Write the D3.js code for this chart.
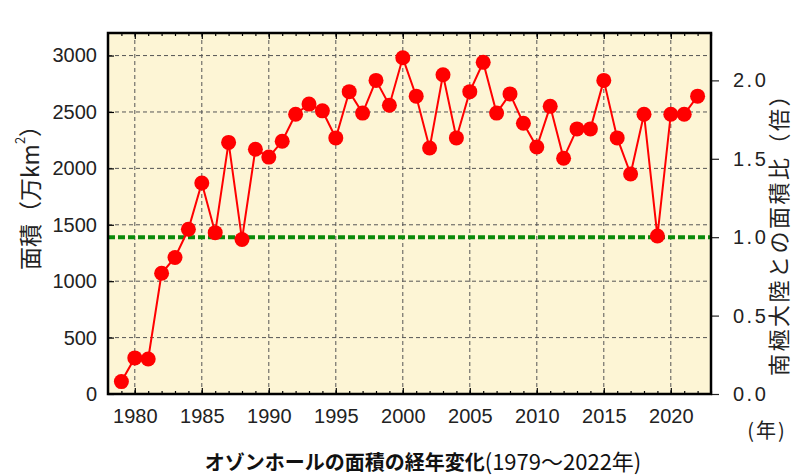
<!DOCTYPE html>
<html>
<head>
<meta charset="utf-8">
<script src="https://cdn.jsdelivr.net/npm/d3@7"></script>
<style>
body { margin: 0; background: #fff; }
</style>
</head>
<body>
<svg id="chart" width="794" height="475"></svg>
<script>
// オゾンホールの面積 (万km2), 1979-2022
var years = [1979,1980,1981,1982,1983,1984,1985,1986,1987,1988,1989,1990,1991,1992,1993,1994,1995,1996,1997,1998,1999,2000,
             2001,2002,2003,2004,2005,2006,2007,2008,2009,2010,2011,2012,2013,2014,2015,2016,2017,2018,2019,2020,2021,2022];
var areas = [110,320,310,1070,1210,1460,1870,1430,2230,1370,2170,2100,2240,2480,2570,2510,2270,2680,2490,2780,2560,2980,
             2640,2180,2830,2270,2680,2940,2490,2660,2400,2190,2550,2090,2350,2350,2780,2270,1950,2480,1400,2480,2480,2640];
var antarctica = 1390; // 南極大陸の面積
var xTicks = [1980,1985,1990,1995,2000,2005,2010,2015,2020];
var yTicks = [0,500,1000,1500,2000,2500,3000];
var ratioTicks = [0,0.5,1.0,1.5,2.0];

var svg = d3.select("#chart");
var L = 108, R = 711, T = 33, B = 394;

var x = d3.scaleLinear().domain([1978, 2023]).range([L, R]);
var y = d3.scaleLinear().domain([0, 3200]).range([B, T]);
var y2 = d3.scaleLinear().domain([0, 3200 / antarctica]).range([B, T]);

var numFont = "'Liberation Sans', Arial, sans-serif";
var jpFont = "'Noto Sans CJK JP', sans-serif";

// plot background
svg.append("rect").attr("x", L).attr("y", T).attr("width", R - L).attr("height", B - T)
   .style("fill", "#fdf5d5");

// grid
svg.append("g").selectAll("line").data(xTicks).enter().append("line")
   .attr("x1", function(d){ return x(d); }).attr("x2", function(d){ return x(d); })
   .attr("y1", T).attr("y2", B)
   .style("stroke", "#555").style("stroke-width", 1).style("stroke-dasharray", "4,3");
svg.append("g").selectAll("line").data(yTicks.slice(1)).enter().append("line")
   .attr("x1", L).attr("x2", R)
   .attr("y1", function(d){ return y(d); }).attr("y2", function(d){ return y(d); })
   .style("stroke", "#555").style("stroke-width", 1).style("stroke-dasharray", "4,3");

// antarctica reference line
svg.append("line").attr("x1", L).attr("x2", R).attr("y1", y(antarctica)).attr("y2", y(antarctica))
   .style("stroke", "#0a8a0a").style("stroke-width", 4).style("stroke-dasharray", "7,3");

// minor/major ticks, bottom and top, pointing inward
svg.append("g").attr("transform", "translate(0," + B + ")")
   .call(d3.axisBottom(x).tickValues(years.concat([2023])).tickSize(-3).tickFormat(""));
svg.append("g").attr("transform", "translate(0," + T + ")")
   .call(d3.axisTop(x).tickValues(years.concat([2023])).tickSize(-3).tickFormat(""));
svg.append("g").attr("transform", "translate(0," + T + ")")
   .call(d3.axisTop(x).tickValues(xTicks).tickSize(-6).tickFormat(""));
var xAxis = svg.append("g").attr("class", "xaxis").attr("transform", "translate(0," + B + ")")
   .call(d3.axisBottom(x).tickValues(xTicks).tickSize(-6).tickPadding(15).tickFormat(d3.format("d")));

var yAxis = svg.append("g").attr("class", "yaxis").attr("transform", "translate(" + L + ",0)")
   .call(d3.axisLeft(y).tickValues(yTicks).tickSize(-6).tickPadding(11).tickFormat(d3.format("d")));

var rAxis = svg.append("g").attr("class", "raxis").attr("transform", "translate(" + R + ",0)")
   .call(d3.axisRight(y2).tickValues(ratioTicks).tickSize(8).tickPadding(14).tickFormat(d3.format(".1f")));

svg.selectAll(".domain").remove();
svg.selectAll(".tick line").style("stroke", "#000").style("stroke-width", 1.2);
svg.selectAll(".xaxis text, .yaxis text, .raxis text")
   .style("font-family", numFont).style("font-size", "20px").style("fill", "#222");
rAxis.selectAll("text").style("letter-spacing", "2.5px");
rAxis.selectAll(".tick line").style("stroke", "#222");

// frame
svg.append("rect").attr("x", L).attr("y", T).attr("width", R - L).attr("height", B - T)
   .style("fill", "none").style("stroke", "#000").style("stroke-width", 2.5);

// series
var line = d3.line().x(function(d, i){ return x(years[i]); }).y(function(d){ return y(d); });
svg.append("path").datum(areas).attr("d", line)
   .style("fill", "none").style("stroke", "#ff0000").style("stroke-width", 2);
svg.append("g").selectAll("circle").data(areas).enter().append("circle")
   .attr("cx", function(d, i){ return x(years[i]); })
   .attr("cy", function(d){ return y(d); })
   .attr("r", 7.5)
   .style("fill", "#ff0000");

// axis titles
var lt = svg.append("text").attr("transform", "translate(29,192) rotate(-90)")
   .attr("text-anchor", "middle").attr("dominant-baseline", "central")
   .style("font-family", jpFont).style("font-size", "23px").style("fill", "#222");
lt.append("tspan").text("面積（万km");
lt.append("tspan").attr("baseline-shift", "super").style("font-size", "13px").text("2");
lt.append("tspan").text("）");

svg.append("text").attr("transform", "translate(777,229) rotate(-90)")
   .attr("text-anchor", "middle").attr("dominant-baseline", "central")
   .style("font-family", jpFont).style("font-size", "22px").style("letter-spacing", "2.5px").style("fill", "#222")
   .text("南極大陸との面積比（倍）");

svg.append("text").attr("x", 767).attr("y", 429)
   .attr("text-anchor", "middle").attr("dominant-baseline", "central")
   .style("font-family", jpFont).style("font-size", "20px").style("letter-spacing", "2px").style("fill", "#222")
   .text("(年)");

// caption
var cap = svg.append("text").attr("x", 423).attr("y", 470).attr("text-anchor", "middle")
   .style("font-family", jpFont).style("fill", "#111");
cap.append("tspan").style("font-weight", "700").style("font-size", "20px").text("オゾンホールの面積の経年変化");
cap.append("tspan").style("font-weight", "400").style("font-size", "22px").text("(1979～2022年)");
</script>
</body>
</html>
